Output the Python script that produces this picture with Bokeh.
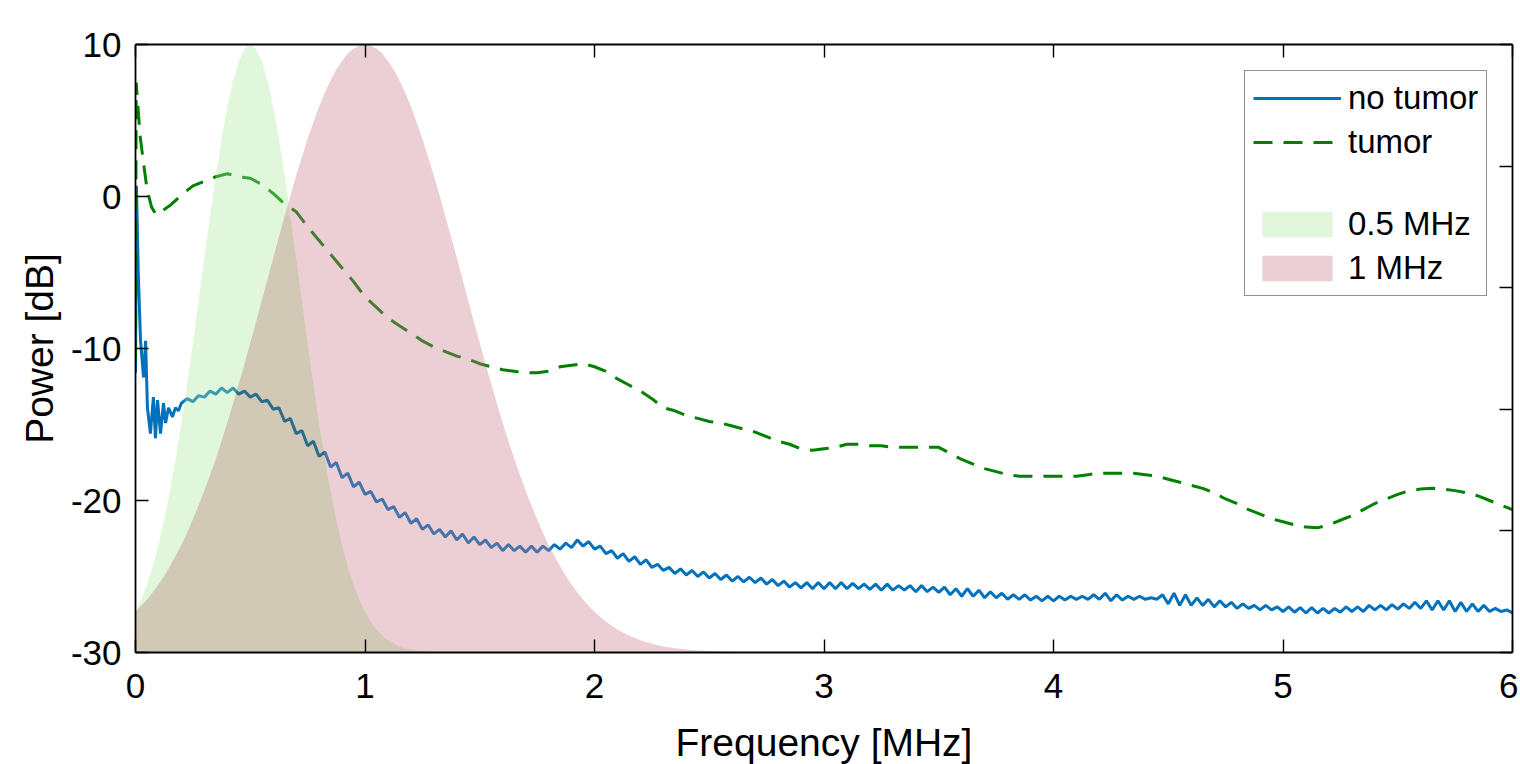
import numpy as np
from bokeh.plotting import figure
from bokeh.models import Range1d, LinearAxis, FixedTicker, Legend, LegendItem
from bokeh.embed import file_html
from bokeh.resources import INLINE

# ---------------- data ----------------
# no tumor (blue, solid): irregular head near DC, then a 0.025 MHz grid from 0.2 to 6.0
blue_head_f = [0, 0.004, 0.012, 0.022, 0.035, 0.044, 0.052, 0.065, 0.078, 0.087,
               0.096, 0.109, 0.122, 0.131, 0.144, 0.161, 0.174, 0.187]
blue_head_db = [-11.6, 0.7, -5.0, -9.5, -11.9, -9.5, -13.9, -15.6, -13.2, -15.9,
                -13.4, -15.6, -13.6, -14.9, -13.9, -14.5, -13.9, -14.1]
blue_grid_db = [
    -13.6, -13.3, -13.5, -13.1, -13.2, -12.8, -13.0, -12.6,
    -12.9, -12.6, -13.0, -12.8, -13.2, -13.0, -13.5, -13.4,
    -14.0, -13.9, -14.8, -14.6, -15.6, -15.4, -16.4, -16.1,
    -17.1, -16.8, -17.8, -17.5, -18.5, -18.2, -19.1, -18.8,
    -19.6, -19.4, -20.1, -19.9, -20.6, -20.4, -21.1, -20.8,
    -21.5, -21.2, -21.9, -21.6, -22.2, -21.9, -22.4, -22.0,
    -22.6, -22.2, -22.8, -22.4, -22.9, -22.6, -23.1, -22.8,
    -23.3, -22.9, -23.3, -23.0, -23.4, -23.0, -23.4, -23.0,
    -23.3, -22.9, -23.2, -22.8, -23.1, -22.6, -23.0, -22.7,
    -23.2, -23.0, -23.5, -23.3, -23.8, -23.5, -24.0, -23.7,
    -24.2, -23.9, -24.4, -24.2, -24.6, -24.4, -24.8, -24.5,
    -24.9, -24.6, -25.0, -24.7, -25.1, -24.8, -25.2, -24.9,
    -25.3, -25.0, -25.35, -25.05, -25.4, -25.1, -25.5, -25.2,
    -25.6, -25.3, -25.7, -25.4, -25.75, -25.4, -25.8, -25.4,
    -25.8, -25.4, -25.8, -25.4, -25.8, -25.45, -25.8, -25.5,
    -25.85, -25.5, -25.9, -25.5, -25.9, -25.6, -25.9, -25.6,
    -26.0, -25.6, -26.0, -25.7, -26.05, -25.7, -26.2, -25.8,
    -26.3, -25.8, -26.3, -25.9, -26.4, -26.0, -26.4, -26.1,
    -26.5, -26.2, -26.5, -26.2, -26.55, -26.3, -26.6, -26.3,
    -26.6, -26.3, -26.55, -26.3, -26.5, -26.3, -26.5, -26.2,
    -26.5, -26.1, -26.6, -26.2, -26.55, -26.3, -26.5, -26.3,
    -26.5, -26.4, -26.5, -26.2, -26.8, -26.1, -26.9, -26.2,
    -26.9, -26.4, -26.9, -26.5, -27.0, -26.6, -27.0, -26.7,
    -27.1, -26.8, -27.1, -26.9, -27.2, -26.9, -27.2, -27.0,
    -27.3, -27.0, -27.35, -27.05, -27.4, -27.05, -27.4, -27.1,
    -27.4, -27.1, -27.35, -27.0, -27.3, -27.0, -27.3, -26.9,
    -27.2, -26.9, -27.2, -26.85, -27.15, -26.8, -27.1, -26.7,
    -27.1, -26.6, -27.2, -26.6, -27.2, -26.6, -27.3, -26.7,
    -27.3, -26.8, -27.3, -26.9, -27.3, -27.1, -27.3, -27.2,
    -27.4,
]

# tumor (green, dashed): head near DC, then a 0.05 MHz grid from 0.1 to 6.0
green_head_f = [0, 0.003, 0.02, 0.035, 0.05, 0.07, 0.09]
green_head_db = [-10.7, 7.5, 4.0, 2.2, 0.5, -0.7, -1.2]
green_grid_db = [
    -1.1, -0.6, 0.1, 0.7, 1.0, 1.3, 1.5, 1.3,
    1.2, 0.8, 0.2, -0.5, -1.0, -2.0, -2.9, -3.8,
    -4.7, -5.6, -6.6, -7.3, -8.0, -8.5, -9.0, -9.5,
    -9.9, -10.2, -10.5, -10.7, -11.0, -11.2, -11.4, -11.5,
    -11.6, -11.6, -11.5, -11.2, -11.1, -11.0, -11.2, -11.5,
    -12.0, -12.4, -12.8, -13.3, -13.9, -14.1, -14.4, -14.6,
    -14.8, -14.9, -15.1, -15.3, -15.5, -15.8, -16.1, -16.3,
    -16.6, -16.7, -16.6, -16.5, -16.3, -16.3, -16.4, -16.4,
    -16.5, -16.5, -16.5, -16.5, -16.5, -16.9, -17.3, -17.6,
    -17.9, -18.1, -18.3, -18.4, -18.4, -18.4, -18.4, -18.4,
    -18.4, -18.3, -18.2, -18.2, -18.2, -18.2, -18.3, -18.4,
    -18.6, -18.8, -19.0, -19.2, -19.5, -19.9, -20.2, -20.6,
    -20.9, -21.2, -21.4, -21.6, -21.75, -21.8, -21.6, -21.3,
    -21.0, -20.6, -20.2, -19.9, -19.6, -19.35, -19.25, -19.2,
    -19.25, -19.35, -19.5, -19.7, -20.0, -20.3, -20.6,
]

# analysis windows (normalised, right axis 0..1) on a 0.025 MHz grid 0..3 MHz
win_05_mhz = [
    0.067, 0.087, 0.112, 0.142, 0.177, 0.219, 0.266, 0.319, 0.378, 0.442,
    0.509, 0.579, 0.649, 0.718, 0.784, 0.845, 0.898, 0.941, 0.973, 0.993,
    1.0, 0.993, 0.973, 0.941, 0.898, 0.845, 0.784, 0.718, 0.649, 0.579,
    0.509, 0.442, 0.378, 0.319, 0.266, 0.219, 0.177, 0.142, 0.112, 0.087,
    0.067, 0.051, 0.038, 0.028, 0.020, 0.015, 0.010, 0.007, 0.005, 0.003,
    0.002, 0.0015, 0.001, 0.0006, 0.0004, 0.0003, 0.0002, 0.0001, 0.0001, 0, 0,
    0, 0, 0, 0, 0, 0, 0, 0, 0, 0, 0, 0, 0, 0, 0, 0, 0, 0, 0, 0,
    0, 0, 0, 0, 0, 0, 0, 0, 0, 0, 0, 0, 0, 0, 0, 0, 0, 0, 0, 0,
    0, 0, 0, 0, 0, 0, 0, 0, 0, 0, 0, 0, 0, 0, 0, 0, 0, 0, 0, 0,
]
win_1_mhz = [
    0.067, 0.077, 0.087, 0.099, 0.112, 0.126, 0.142, 0.159, 0.177, 0.197,
    0.219, 0.242, 0.266, 0.292, 0.319, 0.348, 0.378, 0.409, 0.442, 0.475,
    0.509, 0.543, 0.579, 0.614, 0.649, 0.684, 0.718, 0.752, 0.784, 0.815,
    0.845, 0.872, 0.898, 0.921, 0.941, 0.959, 0.973, 0.985, 0.993, 0.998,
    1.0,
    0.998, 0.993, 0.985, 0.973, 0.959, 0.941, 0.921, 0.898, 0.872, 0.845,
    0.815, 0.784, 0.752, 0.718, 0.684, 0.649, 0.614, 0.579, 0.543, 0.509,
    0.475, 0.442, 0.409, 0.378, 0.348, 0.319, 0.292, 0.266, 0.242, 0.219,
    0.197, 0.177, 0.159, 0.142, 0.126, 0.112, 0.099, 0.087, 0.077, 0.067,
    0.0585, 0.051, 0.044, 0.038, 0.033, 0.028, 0.024, 0.020, 0.017, 0.015,
    0.012, 0.010, 0.0087, 0.007, 0.006, 0.005, 0.0041, 0.0034, 0.0028, 0.0023,
    0.0019, 0.0015, 0.0012, 0.001, 0.0008, 0.0006, 0.0005, 0.0004, 0.0003, 0.0003,
    0.0002, 0.0002, 0.0001, 0.0001, 0.0001, 0.0001, 0, 0, 0, 0,
]

x_ticks = [0, 1, 2, 3, 4, 5, 6]
y_ticks = [-30, -20, -10, 0, 10]
y_tick_labels = ["-30", "-20", "-10", "0", "10"]
right_ticks = [0, 0.2, 0.4, 0.6, 0.8, 1.0]
series_labels = ["no tumor", "tumor", "0.5 MHz", "1 MHz"]

# ---------------- assemble ----------------
blue_f = blue_head_f + list(np.round(np.arange(len(blue_grid_db)) * 0.025 + 0.2, 4))
blue_db = blue_head_db + blue_grid_db
green_f = green_head_f + list(np.round(np.arange(len(green_grid_db)) * 0.05 + 0.1, 4))
green_db = green_head_db + green_grid_db
win_f = np.round(np.arange(len(win_05_mhz)) * 0.025, 4)
w05 = np.array(win_05_mhz)
w1 = np.array(win_1_mhz)
w_lo = np.minimum(w05, w1)

FONT = "Liberation Sans"

p = figure(frame_width=1377, frame_height=608,
           x_range=Range1d(0, 6), y_range=Range1d(-30, 10),
           output_backend="svg", toolbar_location=None,
           min_border_left=135, min_border_right=6, min_border_top=44, min_border_bottom=110,
           background_fill_color="white", border_fill_color="white",
           outline_line_color=None)
p.extra_y_ranges = {"win": Range1d(0, 1)}
p.xgrid.visible = False
p.ygrid.visible = False

# lines first, translucent windows drawn over them
rb = p.line(blue_f, blue_db, line_color="#0072BD", line_width=3)
rg = p.line(green_f, green_db, line_color="#008000", line_width=3, line_dash="19 11")
rblank = p.line(x=[], y=[], line_alpha=0)

A = 0.35
r_g = p.varea(x=win_f, y1=w_lo, y2=w05, fill_color="#a6e89b", fill_alpha=A, y_range_name="win")
r_p = p.varea(x=win_f, y1=w_lo, y2=w1, fill_color="#c67687", fill_alpha=A, y_range_name="win")
r_o = p.varea(x=win_f, y1=np.zeros_like(w_lo), y2=w_lo, fill_color="#7c622c", fill_alpha=A,
              y_range_name="win")


def style(ax):
    ax.major_tick_in = 13
    ax.major_tick_out = 0
    ax.minor_tick_in = 0
    ax.minor_tick_out = 0
    ax.axis_line_color = "black"
    ax.axis_line_width = 1.8
    ax.major_tick_line_color = "black"
    ax.major_tick_line_width = 1.4
    ax.major_label_text_font = FONT
    ax.major_label_text_font_size = "35px"
    ax.major_label_text_color = "black"
    ax.axis_label_text_font = FONT
    ax.axis_label_text_font_size = "39px"
    ax.axis_label_text_font_style = "normal"
    ax.axis_label_text_color = "black"


xa = p.xaxis[0]
ya = p.yaxis[0]
style(xa)
style(ya)
xa.ticker = FixedTicker(ticks=x_ticks)
ya.ticker = FixedTicker(ticks=y_ticks)
ya.major_label_overrides = {t: s for t, s in zip(y_ticks, y_tick_labels)}
xa.axis_label = "Frequency [MHz]"
ya.axis_label = "Power [dB]"
xa.major_label_standoff = 21
ya.major_label_standoff = 14
xa.axis_label_standoff = 20
ya.axis_label_standoff = 7

# mirrored box ticks (no labels)
top = LinearAxis(ticker=FixedTicker(ticks=x_ticks))
right = LinearAxis(y_range_name="win", ticker=FixedTicker(ticks=right_ticks))
for ax in (top, right):
    style(ax)
    ax.major_label_text_font_size = "1px"
    ax.major_label_text_color = None
    ax.major_label_text_alpha = 0
    ax.major_label_standoff = 0
p.add_layout(top, "above")
p.add_layout(right, "right")

legend = Legend(items=[
    LegendItem(label=series_labels[0], renderers=[rb]),
    LegendItem(label=series_labels[1], renderers=[rg]),
    LegendItem(label=" ", renderers=[rblank]),
    LegendItem(label=series_labels[2], renderers=[r_g]),
    LegendItem(label=series_labels[3], renderers=[r_p]),
], location=(1109, 356))
legend.label_text_font = FONT
legend.label_text_font_size = "33px"
legend.label_text_color = "black"
legend.glyph_width = 88
legend.glyph_height = 32
legend.label_height = 32
legend.label_standoff = 7
legend.padding = 8
legend.spacing = 6
legend.margin = 0
legend.border_line_color = "#262626"
legend.border_line_width = 1.2
legend.background_fill_color = "white"
legend.background_fill_alpha = 1
p.add_layout(legend)

open("out.html", "w").write(file_html(p, INLINE))
